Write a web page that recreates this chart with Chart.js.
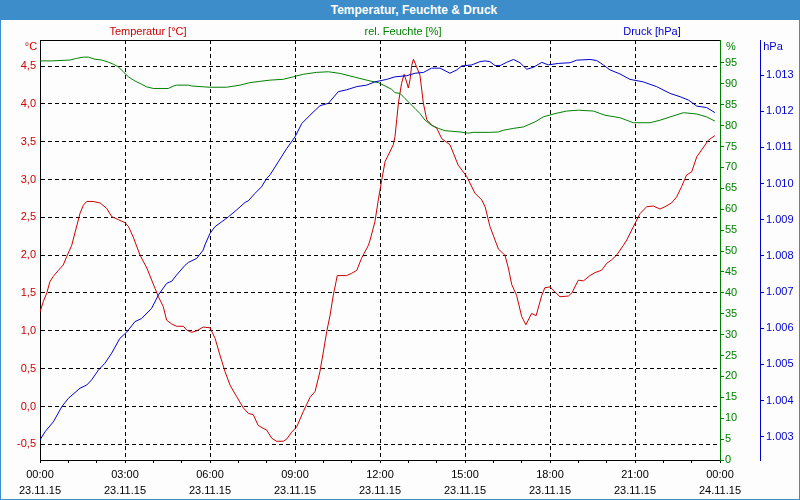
<!DOCTYPE html>
<html><head><meta charset="utf-8">
<script src="https://cdn.jsdelivr.net/npm/chart.js@4.4.0/dist/chart.umd.min.js"></script>
<style>
html,body{margin:0;padding:0;background:#fdfdfd;}
#wrap{position:relative;width:800px;height:500px;overflow:hidden;font-family:"Liberation Sans",Arial,sans-serif;font-size:11px;background:#fdfdfd;}
#frame{position:absolute;left:0;top:0;width:798px;height:499px;border:1px solid #3c8dc9;border-top:none;pointer-events:none;}
#bar{position:absolute;left:0;top:0;width:800px;height:20px;background:#3c8dc9;color:#fff;font-weight:bold;font-size:12px;line-height:20px;}
#bar span{position:absolute;left:414px;top:0;transform:translateX(-50%);white-space:nowrap;}
.lbl{position:absolute;white-space:nowrap;transform:translate(-50%,-50%);line-height:1;}
#topline{position:absolute;left:40px;top:40px;width:680px;height:1px;background:#000;}
canvas{position:absolute;left:0;top:0;}
</style></head>
<body>
<div id="wrap">
<canvas id="c" width="800" height="500"></canvas>
<div id="topline"></div>
<div id="bar"><span>Temperatur, Feuchte &amp; Druck</span></div>
<div class="lbl" style="left:148px;top:31px;color:#cc0000">Temperatur [°C]</div>
<div class="lbl" style="left:403px;top:31px;color:#008000">rel. Feuchte [%]</div>
<div class="lbl" style="left:652px;top:31px;color:#0000cc">Druck [hPa]</div>
<div class="lbl" style="left:31px;top:46px;color:#cc0000">°C</div>
<div class="lbl" style="left:731px;top:46px;color:#008000">%</div>
<div class="lbl" style="left:773px;top:46px;color:#0000cc">hPa</div>
<div id="frame"></div>
</div>
<script>
// ---- data (hours since 23.11.15 00:00) ----
const tempHours = [0.00,0.12,0.24,0.35,0.47,0.65,0.82,0.94,1.12,1.41,1.53,1.65,1.88,2.12,2.35,2.53,2.76,3.00,3.12,3.29,3.53,3.77,4.06,4.18,4.35,4.47,4.65,4.82,5.06,5.18,5.35,5.53,5.76,6.00,6.18,6.35,6.53,6.71,6.94,7.18,7.35,7.53,7.70,7.88,8.00,8.18,8.35,8.59,8.71,8.88,9.06,9.29,9.53,9.71,9.88,10.00,10.12,10.24,10.35,10.45,10.49,10.82,11.00,11.18,11.35,11.59,11.65,11.82,11.94,12.06,12.18,12.29,12.47,12.53,12.59,12.65,12.76,12.85,12.94,13.00,13.06,13.12,13.18,13.29,13.41,13.53,13.65,13.82,14.00,14.18,14.47,14.76,15.06,15.35,15.59,15.71,15.88,16.06,16.18,16.35,16.41,16.53,16.65,16.82,17.00,17.15,17.35,17.51,17.71,17.82,18.00,18.35,18.65,18.77,19.00,19.18,19.41,19.59,19.82,20.00,20.18,20.35,20.59,20.71,21.00,21.18,21.41,21.65,21.88,22.06,22.29,22.47,22.65,22.82,23.00,23.18,23.35,23.59,23.82];
const tempValues = [1.25,1.39,1.50,1.65,1.72,1.80,1.87,1.98,2.13,2.55,2.66,2.71,2.71,2.69,2.62,2.51,2.47,2.43,2.38,2.24,2.00,1.83,1.56,1.45,1.32,1.14,1.09,1.06,1.06,1.01,0.98,1.00,1.05,1.04,0.90,0.68,0.46,0.28,0.13,-0.02,-0.09,-0.11,-0.25,-0.29,-0.31,-0.42,-0.46,-0.46,-0.43,-0.34,-0.27,-0.07,0.12,0.20,0.46,0.72,0.99,1.21,1.47,1.65,1.73,1.73,1.76,1.80,1.96,2.13,2.20,2.44,2.73,2.99,3.24,3.32,3.46,3.57,3.79,4.01,4.27,4.39,4.29,4.21,4.32,4.51,4.59,4.49,4.38,4.01,3.79,3.72,3.68,3.54,3.46,3.19,3.04,2.82,2.73,2.64,2.38,2.20,2.08,2.02,2.00,1.83,1.61,1.47,1.19,1.08,1.23,1.20,1.47,1.57,1.58,1.45,1.46,1.50,1.67,1.66,1.73,1.77,1.80,1.89,1.94,2.00,2.13,2.20,2.42,2.55,2.64,2.65,2.61,2.64,2.69,2.77,2.91,3.06,3.10,3.30,3.39,3.52,3.58];

const humHours = [0.00,0.41,1.06,1.29,1.53,1.71,1.94,2.18,2.41,2.59,2.76,2.94,3.12,3.35,3.59,3.76,4.00,4.53,4.71,4.82,5.24,5.35,5.76,6.00,6.59,7.06,7.41,7.76,8.12,8.59,8.94,9.29,9.76,10.18,10.59,10.94,11.29,11.65,11.94,12.18,12.41,12.53,12.71,12.88,13.06,13.24,13.41,13.59,13.82,14.06,14.29,14.82,15.12,15.29,15.88,16.18,16.35,16.71,17.06,17.47,17.76,18.18,18.59,19.00,19.53,19.94,20.47,20.94,21.53,21.88,22.24,22.71,23.18,23.53,23.82];
const humValues = [95.5,95.5,95.7,96.1,96.4,96.4,95.9,95.7,95.2,94.7,94.1,92.9,91.7,90.7,89.9,89.3,88.9,88.9,89.5,89.7,89.7,89.5,89.3,89.2,89.2,89.7,90.3,90.6,90.9,91.1,91.7,92.3,92.75,92.9,92.5,91.9,91.3,90.7,90.3,89.5,88.7,87.9,87.7,86.5,85.3,84.1,82.9,81.3,80.1,79.35,78.8,78.5,78.2,78.4,78.4,78.5,78.9,79.35,79.7,80.9,82.1,82.9,83.5,83.7,83.5,82.5,81.9,80.7,80.7,81.3,82.1,83.1,82.8,82.1,81.1];

const pressHours = [0.00,0.18,0.47,0.77,1.00,1.41,1.65,1.82,2.06,2.29,2.53,2.82,3.06,3.35,3.59,3.94,4.18,4.47,4.65,4.82,5.12,5.24,5.53,5.76,5.82,6.00,6.18,6.41,6.65,6.94,7.24,7.35,7.59,7.82,8.00,8.12,8.41,8.71,9.00,9.24,9.53,9.88,10.18,10.53,10.82,11.18,11.53,11.82,12.24,12.53,12.94,13.24,13.53,13.82,14.12,14.47,14.71,14.88,15.24,15.53,15.71,15.88,16.06,16.24,16.47,16.71,16.94,17.18,17.41,17.71,17.94,18.29,18.71,18.94,19.41,19.65,19.88,20.12,20.47,20.82,21.29,21.76,22.24,22.59,22.88,23.18,23.53,23.82];
const pressValues = [1002.91,1003.14,1003.41,1003.83,1004.06,1004.34,1004.43,1004.57,1004.84,1005.03,1005.31,1005.72,1005.89,1006.18,1006.27,1006.55,1006.92,1007.24,1007.30,1007.47,1007.74,1007.82,1007.93,1008.16,1008.30,1008.62,1008.81,1008.94,1009.08,1009.27,1009.48,1009.52,1009.73,1009.91,1010.14,1010.24,1010.60,1010.97,1011.29,1011.66,1011.89,1012.15,1012.22,1012.54,1012.59,1012.68,1012.72,1012.81,1012.88,1012.95,1012.98,1013.05,1013.07,1013.19,1013.19,1013.05,1013.14,1013.25,1013.28,1013.37,1013.39,1013.37,1013.26,1013.26,1013.35,1013.43,1013.34,1013.16,1013.21,1013.35,1013.28,1013.32,1013.34,1013.41,1013.43,1013.40,1013.28,1013.14,1013.03,1012.88,1012.81,1012.68,1012.49,1012.40,1012.31,1012.14,1012.10,1011.96];

// ---- ticks / labels ----
const xTickHours = [0,1,2,3,4,5,6,7,8,9,10,11,12,13,14,15,16,17,18,19,20,21,22,23,24];
const xLabelHours = [0,3,6,9,12,15,18,21,24];
const xLabelTimes = ['00:00','03:00','06:00','09:00','12:00','15:00','18:00','21:00','00:00'];
const xLabelDates = ['23.11.15','23.11.15','23.11.15','23.11.15','23.11.15','23.11.15','23.11.15','23.11.15','24.11.15'];
const tempTicks = [-0.5,0,0.5,1,1.5,2,2.5,3,3.5,4,4.5];
const humTicks = [0,5,10,15,20,25,30,35,40,45,50,55,60,65,70,75,80,85,90,95];
const pressTicks = [1003,1004,1005,1006,1007,1008,1009,1010,1011,1012,1013];

const RED = '#cc0000', GREEN = '#008000', BLUE = '#0000cc';
const FONT = {family:'"Liberation Sans", Arial, sans-serif', size:11};

function pts(xs, ys){ const n=Math.min(xs.length, ys.length); const a=[]; for(let i=0;i<n;i++) a.push({x:xs[i], y:ys[i]}); return a; }

new Chart(document.getElementById('c'), {
  type: 'line',
  data: {
    datasets: [
      {label:'Druck', data: pts(pressHours, pressValues), yAxisID:'yP', borderColor:BLUE, borderWidth:1, pointRadius:0, tension:0, fill:false},
      {label:'Feuchte', data: pts(humHours, humValues), yAxisID:'yH', borderColor:GREEN, borderWidth:1, pointRadius:0, tension:0, fill:false},
      {label:'Temperatur', data: pts(tempHours, tempValues), yAxisID:'yT', borderColor:RED, borderWidth:1, pointRadius:0, tension:0, fill:false}
    ]
  },
  options: {
    responsive:false, animation:false,
    layout:{padding:{top:40,left:0,right:0,bottom:0}},
    plugins:{legend:{display:false}, tooltip:{enabled:false}, title:{display:false}},
    scales: {
      x: {
        type:'linear', position:'bottom', min:0, max:24,
        afterBuildTicks: s => { s.ticks = xTickHours.map(v => ({value:v})); },
        afterFit: s => { s.height = 40; },
        ticks: {
          autoSkip:false, maxRotation:0, minRotation:0, color:'#000', padding:4,
          font:{...FONT, lineHeight:1.45},
          callback: v => { const i = xLabelHours.indexOf(v); return i >= 0 ? [xLabelTimes[i], xLabelDates[i]] : ''; }
        },
        grid: {
          drawOnChartArea:true, drawTicks:true, tickLength:3, tickColor:'#000', lineWidth:1,
          color: c => (c.tick && c.tick.value % 3 === 0 && c.tick.value > 0 && c.tick.value < 24) ? '#000' : 'rgba(0,0,0,0)'
        },
        border: {display:true, color:'#000', width:1, dash:[4,3]}
      },
      yT: {
        type:'linear', position:'left', min:-0.7075, max:4.844,
        afterBuildTicks: s => { s.ticks = tempTicks.map(v => ({value:v})); },
        afterFit: s => { s.width = 40; },
        ticks: {autoSkip:false, color:RED, font:FONT, padding:4, callback: v => v.toFixed(1).replace('.', ',')},
        grid: {drawOnChartArea:true, drawTicks:false, color:'#000', lineWidth:1},
        border: {display:true, color:'#000', width:1, dash:[4,3]}
      },
      yH: {
        type:'linear', position:'right', weight:0, min:0, max:100.5,
        afterBuildTicks: s => { s.ticks = humTicks.map(v => ({value:v})); },
        afterFit: s => { s.width = 40; },
        ticks: {autoSkip:false, color:GREEN, font:FONT, padding:1, callback: v => String(v)},
        grid: {drawOnChartArea:false, drawTicks:true, tickLength:4, color:GREEN, tickColor:GREEN},
        border: {display:true, color:GREEN, width:1}
      },
      yP: {
        type:'linear', position:'right', weight:1, min:1002.356, max:1013.968,
        afterBuildTicks: s => { s.ticks = pressTicks.map(v => ({value:v})); },
        afterFit: s => { s.width = 40; },
        ticks: {autoSkip:false, color:BLUE, font:FONT, padding:2, callback: v => (v/1000).toFixed(3)},
        grid: {drawOnChartArea:false, drawTicks:true, tickLength:4, color:BLUE, tickColor:BLUE},
        border: {display:true, color:BLUE, width:1}
      }
    }
  }
});
</script>
</body></html>
